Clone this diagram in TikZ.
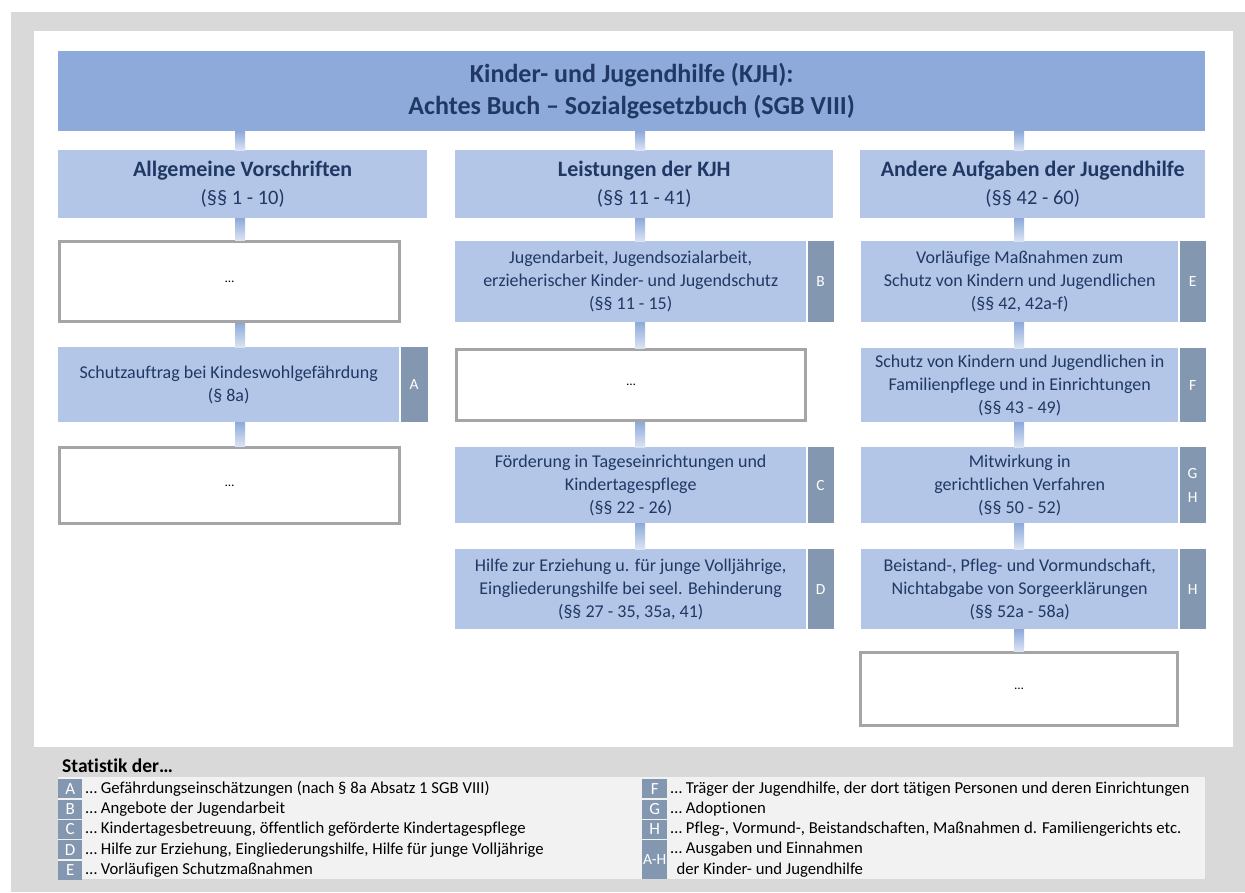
\documentclass[tikz,border=0pt]{standalone}
\usepackage{fontspec}
\setmainfont{Carlito}[Ligatures=NoCommon]
\usetikzlibrary{positioning,calc}
\definecolor{kjhframe}{HTML}{D9D9D9}
\definecolor{kjhdark}{HTML}{8EAADB}
\definecolor{kjhlight}{HTML}{B4C6E7}
\definecolor{kjhfade}{HTML}{DAE3F3}
\definecolor{kjhtag}{HTML}{8497B0}
\definecolor{kjhnavy}{HTML}{1F3864}
\definecolor{kjhborder}{HTML}{A5A5A5}
\definecolor{kjhband}{HTML}{F2F2F2}
\newcommand{\kjhtitle}{\fontsize{26}{32.5}\selectfont\bfseries}
\newcommand{\kjhhead}{\fontsize{20.5}{28}\selectfont}
\newcommand{\kjhheadbf}{\fontsize{22}{28}\selectfont\bfseries}
\newcommand{\kjhbody}{\fontsize{18}{23}\selectfont}
\newcommand{\kjhletter}{\fontsize{15.5}{24}\selectfont}
\newcommand{\kjhlegend}{\fontsize{16.7}{21}\selectfont}

\begin{document}
\begin{tikzpicture}[x=1pt, y=-1pt, node distance=1pt,
    hdrbox/.style={fill=kjhdark, text=kjhnavy, align=center, inner sep=0pt, anchor=north west, font=\kjhtitle},
    colbox/.style={fill=kjhlight, text=kjhnavy, align=center, inner sep=0pt, anchor=north west, font=\kjhhead},
    lawbox/.style={fill=kjhlight, text=kjhnavy, align=center, inner sep=0pt, anchor=north west, font=\kjhbody},
    gapbox/.style={draw=kjhborder, line width=3pt, fill=white, align=center, inner sep=0pt, anchor=north west, font=\fontsize{13}{16}\selectfont},
    tagbox/.style={fill=kjhtag, text=white, align=center, inner sep=0pt, font=\kjhletter},
    legtag/.style={fill=kjhtag, text=white, inner sep=0pt, minimum width=24pt, minimum height=19pt, font=\fontsize{17}{20}\selectfont},
    legtext/.style={inner sep=0pt, align=left, font=\kjhlegend},
    conn/.style={top color=kjhdark, bottom color=kjhfade, draw=none}]
    \useasboundingbox (0,0) rectangle (1245,892);

    % Frame
    \fill[white] (0,0) rectangle (1245,892);
    \fill[kjhframe] (11,12) rectangle (1245,892);
    \fill[white] (34,31) rectangle (1233,747);

    % SGB VIII
    \node[hdrbox, minimum width=1147pt, minimum height=80pt] (sgb) at (58,51) {Kinder- und Jugendhilfe (KJH):\\Achtes Buch – Sozialgesetzbuch (SGB VIII)};

    % Columns
    \node[colbox, minimum width=369pt, minimum height=68pt] (allg) at (58,150) {{\kjhheadbf Allgemeine Vorschriften}\\(§§ 1 - 10)};
    \node[colbox, minimum width=378pt, minimum height=68pt] (leist) at (455,150) {{\kjhheadbf Leistungen der KJH}\\(§§ 11 - 41)};
    \node[colbox, minimum width=345pt, minimum height=68pt] (andere) at (860,150) {{\kjhheadbf Andere Aufgaben der Jugendhilfe}\\(§§ 42 - 60)};

    % Allgemeine Vorschriften
    \node[gapbox, minimum width=340pt, minimum height=80pt] (allgtop) at (58,240) {…};
    \node[lawbox, minimum width=341pt, minimum height=75pt] (schutzauftrag) at (58,347) {Schutzauftrag bei Kindeswohlgefährdung\\(§ 8a)};
    \node[tagbox, minimum width=27pt, minimum height=75pt, right=of schutzauftrag] (taga) {A};
    \node[gapbox, minimum width=340pt, minimum height=76pt] (allgbot) at (58,446) {…};

    % Leistungen der KJH
    \node[lawbox, minimum width=351pt, minimum height=81pt] (jugendarbeit) at (455,241) {Jugendarbeit, Jugendsozialarbeit,\\erzieherischer Kinder- und Jugendschutz\\(§§ 11 - 15)};
    \node[tagbox, minimum width=26pt, minimum height=81pt, right=of jugendarbeit] (tagb) {B};
    \node[gapbox, minimum width=349pt, minimum height=71pt] (leistmid) at (455,348) {…};
    \node[lawbox, minimum width=351pt, minimum height=76pt] (foerderung) at (455,447) {Förderung in Tageseinrichtungen und\\Kindertagespflege\\(§§ 22 - 26)};
    \node[tagbox, minimum width=26pt, minimum height=76pt, right=of foerderung] (tagc) {C};
    \node[lawbox, minimum width=351pt, minimum height=80pt] (erziehung) at (455,549) {Hilfe zur Erziehung u. für junge Volljährige,\\Eingliederungshilfe bei seel. Behinderung\\(§§ 27 - 35, 35a, 41)};
    \node[tagbox, minimum width=26pt, minimum height=80pt, right=of erziehung] (tagd) {D};

    % Andere Aufgaben
    \node[lawbox, minimum width=317pt, minimum height=81pt] (vorlaeufig) at (861,241) {Vorläufige Maßnahmen zum\\Schutz von Kindern und Jugendlichen\\(§§ 42, 42a-f)};
    \node[tagbox, minimum width=26pt, minimum height=81pt, right=of vorlaeufig] (tage) {E};
    \node[lawbox, minimum width=317pt, minimum height=74pt] (pflege) at (861,348) {Schutz von Kindern und Jugendlichen in\\Familienpflege und in Einrichtungen\\(§§ 43 - 49)};
    \node[tagbox, minimum width=26pt, minimum height=74pt, right=of pflege] (tagf) {F};
    \node[lawbox, minimum width=317pt, minimum height=76pt] (mitwirkung) at (861,447) {Mitwirkung in\\gerichtlichen Verfahren\\(§§ 50 - 52)};
    \node[tagbox, minimum width=26pt, minimum height=76pt, right=of mitwirkung] (taggh) {G\\H};
    \node[lawbox, minimum width=317pt, minimum height=80pt] (beistand) at (861,549) {Beistand-, Pfleg- und Vormundschaft,\\Nichtabgabe von Sorgeerklärungen\\(§§ 52a - 58a)};
    \node[tagbox, minimum width=26pt, minimum height=80pt, right=of beistand] (tagh) {H};
    \node[gapbox, minimum width=317pt, minimum height=73pt] (anderebot) at (859,651) {…};

    % Connections
    \coordinate (k1) at (240,0);
    \coordinate (k2) at (640,0);
    \coordinate (k3) at (1019,0);
    \shade[conn] ($(sgb.south -| k1)+(-5,0)$) rectangle ($(allg.north -| k1)+(5,0)$);
    \shade[conn] ($(sgb.south -| k2)+(-5,0)$) rectangle ($(leist.north -| k2)+(5,0)$);
    \shade[conn] ($(sgb.south -| k3)+(-5,0)$) rectangle ($(andere.north -| k3)+(5,0)$);
    \shade[conn] ($(allg.south -| k1)+(-5,0)$) rectangle ($(allgtop.north -| k1)+(5,0)$);
    \shade[conn] ($(allgtop.south -| k1)+(-5,0)$) rectangle ($(schutzauftrag.north -| k1)+(5,0)$);
    \shade[conn] ($(schutzauftrag.south -| k1)+(-5,0)$) rectangle ($(allgbot.north -| k1)+(5,0)$);
    \shade[conn] ($(leist.south -| k2)+(-5,0)$) rectangle ($(jugendarbeit.north -| k2)+(5,0)$);
    \shade[conn] ($(jugendarbeit.south -| k2)+(-5,0)$) rectangle ($(leistmid.north -| k2)+(5,0)$);
    \shade[conn] ($(leistmid.south -| k2)+(-5,0)$) rectangle ($(foerderung.north -| k2)+(5,0)$);
    \shade[conn] ($(foerderung.south -| k2)+(-5,0)$) rectangle ($(erziehung.north -| k2)+(5,0)$);
    \shade[conn] ($(andere.south -| k3)+(-5,0)$) rectangle ($(vorlaeufig.north -| k3)+(5,0)$);
    \shade[conn] ($(vorlaeufig.south -| k3)+(-5,0)$) rectangle ($(pflege.north -| k3)+(5,0)$);
    \shade[conn] ($(pflege.south -| k3)+(-5,0)$) rectangle ($(mitwirkung.north -| k3)+(5,0)$);
    \shade[conn] ($(mitwirkung.south -| k3)+(-5,0)$) rectangle ($(beistand.north -| k3)+(5,0)$);
    \shade[conn] ($(beistand.south -| k3)+(-5,0)$) rectangle ($(anderebot.north -| k3)+(5,0)$);

    % Legend
    \node[anchor=base west, inner sep=0pt, font=\fontsize{19.5}{22}\selectfont\bfseries] (statistik) at (62,772) {Statistik der…};
    \node[fill=kjhband, anchor=north west, inner sep=0pt, minimum width=1147pt, minimum height=102pt] (band) at (58,777) {};
    \node[legtag, anchor=north west] (lega) at (58,779) {A};
    \node[legtag, below=of lega] (legb) {B};
    \node[legtag, below=of legb] (legc) {C};
    \node[legtag, below=of legc] (legd) {D};
    \node[legtag, below=of legd] (lege) {E};
    \node[legtext, right=3pt of lega] {… Gefährdungseinschätzungen (nach § 8a Absatz 1 SGB VIII)};
    \node[legtext, right=3pt of legb] {… Angebote der Jugendarbeit};
    \node[legtext, right=3pt of legc] {… Kindertagesbetreuung, öffentlich geförderte Kindertagespflege};
    \node[legtext, right=3pt of legd] {… Hilfe zur Erziehung, Eingliederungshilfe, Hilfe für junge Volljährige};
    \node[legtext, right=3pt of lege] {… Vorläufigen Schutzmaßnahmen};
    \node[legtag, anchor=north west, minimum width=25pt] (legf) at (642,779) {F};
    \node[legtag, minimum width=25pt, below=of legf] (legg) {G};
    \node[legtag, minimum width=25pt, below=of legg] (legh) {H};
    \node[legtag, minimum width=25pt, minimum height=39pt, below=of legh, font=\fontsize{15.5}{18}\selectfont] (legah) {A-H};
    \node[legtext, right=3pt of legf] {… Träger der Jugendhilfe, der dort tätigen Personen und deren Einrichtungen};
    \node[legtext, right=3pt of legg] {… Adoptionen};
    \node[legtext, right=3pt of legh] {… Pfleg-, Vormund-, Beistandschaften, Maßnahmen d. Familiengerichts etc.};
    \node[legtext, right=3pt of legah] {… Ausgaben und Einnahmen\\\hspace*{6pt}der Kinder- und Jugendhilfe};
\end{tikzpicture}
\end{document}
